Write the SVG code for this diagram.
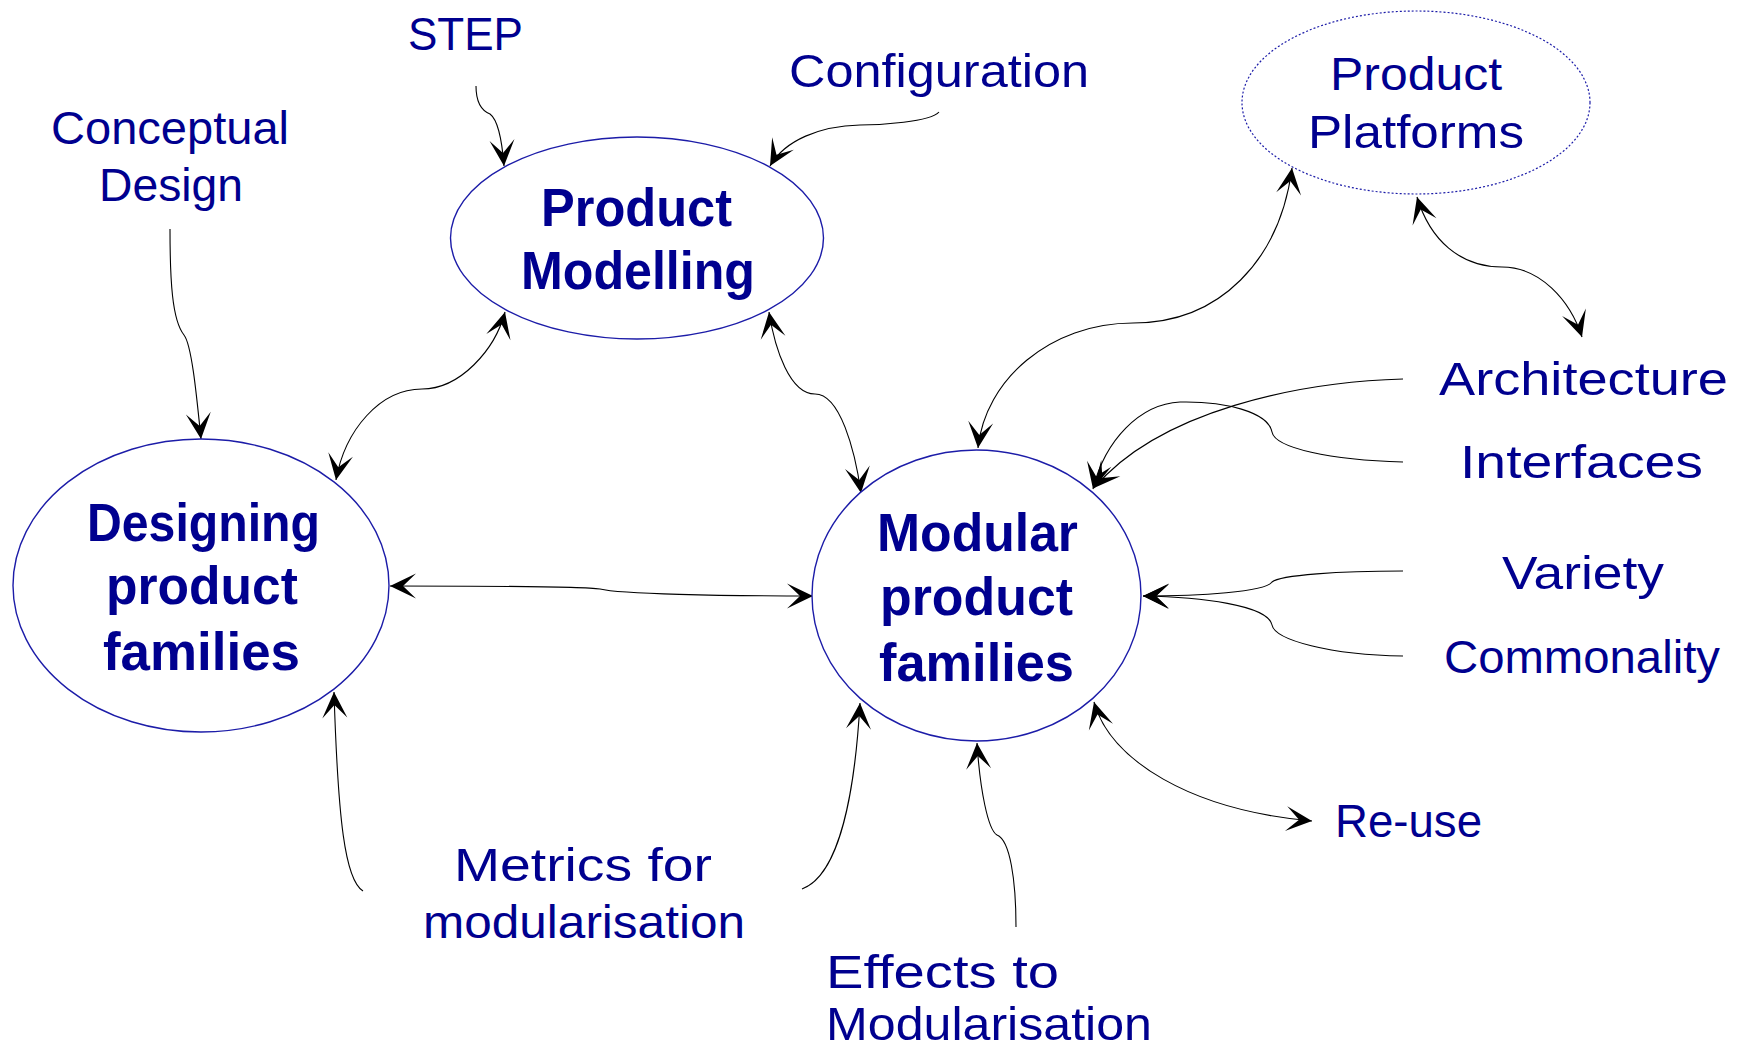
<svg xmlns="http://www.w3.org/2000/svg" width="1752" height="1051" viewBox="0 0 1752 1051">
<defs>
<marker id="ah" viewBox="-27 -14 29 28" markerUnits="userSpaceOnUse" markerWidth="29" markerHeight="28" refX="0" refY="0" orient="auto-start-reverse">
<path d="M0,0 L-26,-12.5 L-13,0 L-26,12.5 Z" fill="#000"/>
</marker>
<style>
.node { fill: #fff; stroke: #1c1ca8; stroke-width: 1.4; }
.dot { fill: none; stroke: #1c1ca8; stroke-width: 1.2; stroke-dasharray: 2 2; }
.t { font-family: "Liberation Sans", Arial, sans-serif; font-size: 46px; fill: #00008f; }
.b { font-weight: bold; font-size: 54px; }
.c { fill: none; stroke: #000; stroke-width: 1.1; }
.e { marker-end: url(#ah); }
.s { marker-start: url(#ah); }
</style>
</defs>
<rect width="1752" height="1051" fill="#fff"/>

<g id="connectors">
<path class="c e" d="M170,229 C170,280 172,320 184,335 C192,345 197,400 201,439"/>
<path class="c e" d="M476,86 C476,100 480,110 490,114 C498,120 502,140 504,166"/>
<path class="c e" d="M939,112 C930,122 880,125 860,125 C820,126 785,140 770,166"/>
<path class="c s e" d="M505,312 C495,350 460,389 422,389 C380,389 345,430 336,480"/>
<path class="c s e" d="M769,312 C775,350 790,394 815,394 C840,394 855,450 861,493"/>
<path class="c s e" d="M390,586 C480,586 580,586 600,589 C620,594 720,596 813,596"/>
<path class="c s e" d="M1292,168 C1280,260 1220,323 1133,323 C1050,323 985,380 978,448"/>
<path class="c s e" d="M1417,197 C1430,240 1460,267 1502,267 C1540,267 1570,300 1582,337"/>
<path class="c e" d="M1403,379 C1300,382 1160,410 1094,488"/>
<path class="c e" d="M1403,462 C1330,460 1275,448 1272,432 C1268,412 1225,401 1180,402 C1140,404 1105,440 1093,489"/>
<path class="c e" d="M1403,571 C1340,571 1280,575 1272,582 C1265,592 1200,596 1143,596"/>
<path class="c e" d="M1403,656 C1330,655 1275,640 1272,625 C1268,605 1200,597 1143,596"/>
<path class="c s e" d="M1094,702 C1110,760 1190,810 1312,821"/>
<path class="c e" d="M1016,927 C1016,880 1010,840 997,835 C988,830 980,790 977,743"/>
<path class="c e" d="M363,891 C345,880 338,820 334,692"/>
<path class="c e" d="M802,889 C840,875 855,790 860,703"/>
</g>

<g id="product-modelling">
<ellipse class="node" cx="637" cy="238" rx="186.5" ry="101"/>
<text class="t b" x="541" y="226" textLength="191" lengthAdjust="spacingAndGlyphs">Product</text>
<text class="t b" x="521" y="289" textLength="234" lengthAdjust="spacingAndGlyphs">Modelling</text>
</g>

<g id="designing-product-families">
<ellipse class="node" cx="201" cy="585.5" rx="188" ry="146.5"/>
<text class="t b" x="87" y="541" textLength="233" lengthAdjust="spacingAndGlyphs">Designing</text>
<text class="t b" x="106" y="604" textLength="192" lengthAdjust="spacingAndGlyphs">product</text>
<text class="t b" x="103" y="670" textLength="197" lengthAdjust="spacingAndGlyphs">families</text>
</g>

<g id="modular-product-families">
<ellipse class="node" cx="976.5" cy="595.5" rx="164.5" ry="145.5"/>
<text class="t b" x="877" y="551" textLength="201" lengthAdjust="spacingAndGlyphs">Modular</text>
<text class="t b" x="880" y="615" textLength="193" lengthAdjust="spacingAndGlyphs">product</text>
<text class="t b" x="879" y="681" textLength="195" lengthAdjust="spacingAndGlyphs">families</text>
</g>

<g id="product-platforms">
<ellipse class="dot" cx="1416" cy="102.5" rx="174" ry="91.5"/>
<text class="t" x="1330" y="90" textLength="172" lengthAdjust="spacingAndGlyphs">Product</text>
<text class="t" x="1308" y="148" textLength="216" lengthAdjust="spacingAndGlyphs">Platforms</text>
</g>

<g id="step"><text class="t" x="408" y="50" textLength="115" lengthAdjust="spacingAndGlyphs">STEP</text></g>
<g id="configuration"><text class="t" x="789" y="87" textLength="300" lengthAdjust="spacingAndGlyphs">Configuration</text></g>
<g id="conceptual-design">
<text class="t" x="51" y="144" textLength="238" lengthAdjust="spacingAndGlyphs">Conceptual</text>
<text class="t" x="99" y="201" textLength="144" lengthAdjust="spacingAndGlyphs">Design</text>
</g>
<g id="architecture"><text class="t" x="1439" y="395" textLength="289" lengthAdjust="spacingAndGlyphs">Architecture</text></g>
<g id="interfaces"><text class="t" x="1460" y="478" textLength="243" lengthAdjust="spacingAndGlyphs">Interfaces</text></g>
<g id="variety"><text class="t" x="1502" y="589" textLength="162" lengthAdjust="spacingAndGlyphs">Variety</text></g>
<g id="commonality"><text class="t" x="1444" y="673" textLength="276" lengthAdjust="spacingAndGlyphs">Commonality</text></g>
<g id="re-use"><text class="t" x="1335" y="837" textLength="147" lengthAdjust="spacingAndGlyphs">Re-use</text></g>
<g id="metrics">
<text class="t" x="454" y="881" textLength="258" lengthAdjust="spacingAndGlyphs">Metrics for</text>
<text class="t" x="423" y="938" textLength="322" lengthAdjust="spacingAndGlyphs">modularisation</text>
</g>
<g id="effects">
<text class="t" x="826" y="988" textLength="233" lengthAdjust="spacingAndGlyphs">Effects to</text>
<text class="t" x="826" y="1040" textLength="326" lengthAdjust="spacingAndGlyphs">Modularisation</text>
</g>
</svg>
